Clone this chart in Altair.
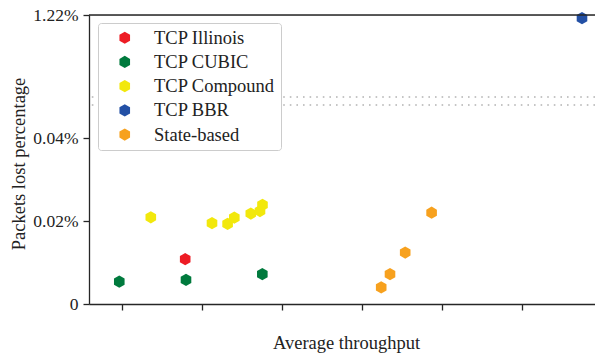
import altair as alt
import pandas as pd

# Average throughput (arbitrary units, tick every 1.0) and packet loss in percent
illinois_x = [1.79]
illinois_y = [0.0108]

cubic_x = [0.966, 1.80, 2.754]
cubic_y = [0.0054, 0.0058, 0.0072]

compound_x = [1.36, 2.125, 2.32, 2.404, 2.61, 2.725, 2.756]
compound_y = [0.0209, 0.0195, 0.0193, 0.0208, 0.0218, 0.0224, 0.0239]

bbr_x = [6.75]
bbr_y = [1.19]

state_x = [4.24, 4.35, 4.54, 4.87]
state_y = [0.0040, 0.0072, 0.0124, 0.0220]

series_names = ["TCP Illinois", "TCP CUBIC", "TCP Compound", "TCP BBR", "State-based"]
series_colors = ["#ED1C24", "#007A3D", "#F2E80C", "#2350A5", "#F7A11E"]

y_ticks = [0, 0.02, 0.04, 1.22]
x_ticks = [1, 2, 3, 4, 5, 6]
break_levels = [0.357, 0.433]

rows = []
for name, xs, ys in zip(
    series_names,
    [illinois_x, cubic_x, compound_x, bbr_x, state_x],
    [illinois_y, cubic_y, compound_y, bbr_y, state_y],
):
    for xv, yv in zip(xs, ys):
        rows.append({"series": name, "throughput": xv, "loss": yv})
df = pd.DataFrame(rows)

W, H = 506, 289
FONT = "Liberation Serif"
INK = "#262626"
hexagon = "M0,-1L0.866,-0.5L0.866,0.5L0,1L-0.866,0.5L-0.866,-0.5Z"

x_scale = alt.Scale(domain=[0.5875, 6.9125], nice=False, zero=False)
# broken axis: linear below 0.04 %, compressed above it
y_scale = alt.Scale(domain=[0, 0.04, 1.22], range=[H, 123, 0], nice=False, zero=False)

points = alt.Chart(df).mark_point(
    shape=hexagon, filled=True, size=150, opacity=1, strokeWidth=0
).encode(
    x=alt.X(
        "throughput:Q",
        scale=x_scale,
        axis=alt.Axis(
            title="Average throughput",
            values=x_ticks,
            labels=False,
            grid=False,
            tickSize=6,
            tickWidth=1.3,
            tickColor=INK,
            domainColor=INK,
            domainWidth=1.3,
            titleFont=FONT,
            titleFontSize=18.5,
            titleFontWeight="normal",
            titleColor="#222222",
            titleX=257,
            titleY=44,
            titleBaseline="alphabetic",
        ),
    ),
    y=alt.Y(
        "loss:Q",
        scale=y_scale,
        axis=alt.Axis(
            title="Packets lost percentage",
            values=y_ticks,
            labelExpr="datum.value == 0 ? '0' : format(datum.value, '.2f') + '%'",
            grid=False,
            tickSize=6,
            tickWidth=1.3,
            tickColor=INK,
            domainColor=INK,
            domainWidth=1.3,
            labelFont=FONT,
            labelFontSize=17.5,
            labelColor="#222222",
            labelPadding=5,
            titleFont=FONT,
            titleFontSize=18.5,
            titleFontWeight="normal",
            titleColor="#222222",
            titleX=-65,
            titleY=148.5,
            titleBaseline="alphabetic",
            titleAngle=270,
        ),
    ),
    color=alt.Color(
        "series:N",
        scale=alt.Scale(domain=series_names, range=series_colors),
        legend=alt.Legend(
            title=None,
            orient="none",
            legendX=9,
            legendY=8,
            symbolType=hexagon,
            symbolSize=150,
            symbolStrokeWidth=0,
            symbolOffset=12,
            labelFont=FONT,
            labelFontSize=18.5,
            labelColor="#222222",
            labelOffset=20,
            rowPadding=5.2,
            padding=5.5,
            strokeColor="#cccccc",
            fillColor="white",
            cornerRadius=3,
        ),
    ),
)

breaks = alt.Chart(pd.DataFrame({"level": break_levels})).mark_rule(
    color="#b3b3b3", strokeWidth=1.6, strokeDash=[1.6, 5]
).encode(y=alt.Y("level:Q", scale=y_scale))

top_spine = alt.Chart(pd.DataFrame({"level": [1.22]})).mark_rule(
    color=INK, strokeWidth=1.3
).encode(y=alt.Y("level:Q", scale=y_scale))

chart = (
    alt.layer(breaks, points, top_spine)
    .properties(
        width=W,
        height=H,
        autosize=alt.AutoSizeParams(type="none"),
        padding={"left": 89, "top": 15, "right": 0, "bottom": 50},
    )
    .configure_view(stroke="transparent")
    .configure(background="white")
)

chart.save("out.html", embed_options={"renderer": "svg", "actions": False})
